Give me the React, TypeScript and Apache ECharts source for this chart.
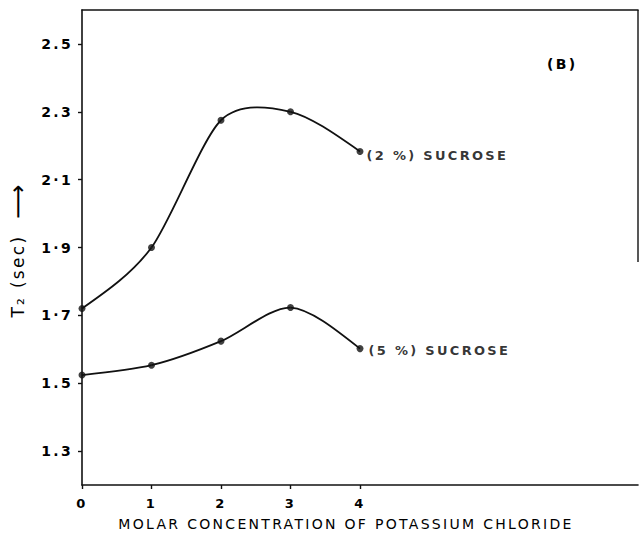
import React, { useEffect, useRef } from "react";
import * as echarts from "echarts";

const concentrations = [0, 1, 2, 3, 4];
const sucrose2 = [1.72, 1.9, 2.275, 2.3, 2.183];
const sucrose5 = [1.524, 1.553, 1.624, 1.723, 1.602];
const seriesNames = ["(2 %) SUCROSE", "(5 %) SUCROSE"];
const yTicks = [1.3, 1.5, 1.7, 1.9, 2.1, 2.3, 2.5];
const yTickLabels: Record<string, string> = {
  "1.3": "1.3",
  "1.5": "1.5",
  "1.7": "1·7",
  "1.9": "1·9",
  "2.1": "2·1",
  "2.3": "2.3",
  "2.5": "2.5",
};
const xTicks = [0, 1, 2, 3, 4];
const xTitle = "MOLAR CONCENTRATION OF POTASSIUM CHLORIDE";
const panelLabel = "(B)";

const INK = "#000";
const FONT = "DejaVu Sans";

function curveSeries(vals: number[]) {
  const n = vals.length;
  return {
    type: "custom",
    data: vals.map((v, i) => [concentrations[i], v]),
    silent: true,
    z: 2,
    renderItem: (params: any, api: any) => {
      const i = params.dataIndex;
      if (i >= n - 1) return null;
      const P = vals.map((v, j) => api.coord([concentrations[j], v]) as number[]);
      const k = 0.82;
      const T: number[][] = [];
      for (let j = 1; j < n - 1; j++) {
        T[j] = [
          (k * (P[j + 1][0] - P[j - 1][0])) / 2,
          (k * (P[j + 1][1] - P[j - 1][1])) / 2,
        ];
      }
      T[0] = [
        (3 * (P[1][0] - P[0][0]) - T[1][0]) / 2,
        (3 * (P[1][1] - P[0][1]) - T[1][1]) / 2,
      ];
      T[n - 1] = [
        (3 * (P[n - 1][0] - P[n - 2][0]) - T[n - 2][0]) / 2,
        (3 * (P[n - 1][1] - P[n - 2][1]) - T[n - 2][1]) / 2,
      ];
      const a = P[i];
      const b = P[i + 1];
      return {
        type: "bezierCurve",
        shape: {
          x1: a[0],
          y1: a[1],
          x2: b[0],
          y2: b[1],
          cpx1: a[0] + T[i][0] / 3,
          cpy1: a[1] + T[i][1] / 3,
          cpx2: b[0] - T[i + 1][0] / 3,
          cpy2: b[1] - T[i + 1][1] / 3,
        },
        style: { stroke: "#111", lineWidth: 1.8, fill: null },
      };
    },
  };
}

function pointSeries(name: string, vals: number[], offset: number[]) {
  const last = vals.length - 1;
  return {
    type: "scatter",
    name,
    data: vals.map((v, i) => [concentrations[i], v]),
    symbol: "circle",
    symbolSize: 7,
    itemStyle: { color: "#111" },
    z: 3,
    label: {
      show: true,
      position: "right",
      distance: 3,
      offset,
      formatter: (p: any) => (p.dataIndex === last ? name : ""),
      color: INK,
      fontFamily: FONT,
      fontSize: 13,
      fontWeight: "bold",
    },
  };
}

export default function App() {
  const ref = useRef<HTMLDivElement>(null);
  useEffect(() => {
    if (!ref.current) return;
    const chart = echarts.init(ref.current, undefined, { renderer: "svg" });
    chart.setOption({
      animation: false,
      backgroundColor: "#fff",
      grid: {
        left: 82,
        right: 2,
        top: 10,
        bottom: 50,
        containLabel: false,
        outerBoundsMode: "none",
      },
      xAxis: [
        {
          type: "value",
          min: 0,
          max: 8,
          splitLine: { show: false },
          axisLine: { show: true, lineStyle: { color: "#111", width: 1.6 } },
          axisTick: {
            show: true,
            length: 4,
            customValues: xTicks,
            lineStyle: { color: "#111", width: 1.4 },
          },
          axisLabel: {
            customValues: xTicks,
            color: INK,
            fontFamily: FONT,
            fontSize: 13,
            fontWeight: "bold",
            margin: 12,
          },
          name: xTitle,
          nameLocation: "middle",
          nameGap: 32,
          nameTextStyle: {
            color: INK,
            fontFamily: FONT,
            fontSize: 14,
            padding: [0, 28, 0, 0],
          },
        },
        {
          type: "value",
          position: "top",
          min: 0,
          max: 8,
          splitLine: { show: false },
          axisLine: { show: true, lineStyle: { color: "#111", width: 1.6 } },
          axisTick: { show: false },
          axisLabel: { show: false },
        },
      ],
      yAxis: {
        type: "value",
        min: 1.2,
        max: 2.6,
        splitLine: { show: false },
        axisLine: { show: true, lineStyle: { color: "#111", width: 1.6 } },
        axisTick: {
          show: true,
          length: 4,
          customValues: yTicks,
          lineStyle: { color: "#111", width: 1.4 },
        },
        axisLabel: {
          customValues: yTicks,
          formatter: (v: number) => yTickLabels[v.toFixed(1)] ?? String(v),
          color: INK,
          fontFamily: FONT,
          fontSize: 14,
          fontWeight: "bold",
          margin: 9,
        },
        name: "{t|T₂ (sec)}{a|   ⟶}",
        nameLocation: "middle",
        nameRotate: 90,
        nameGap: 52,
        nameTextStyle: {
          color: INK,
          fontFamily: FONT,
          fontSize: 17,
          rich: {
            t: { fontSize: 17, fontFamily: FONT, color: INK },
            a: { fontSize: 24, fontFamily: FONT, color: INK },
          },
        },
      },
      graphic: [
        {
          type: "line",
          shape: { x1: 638, y1: 10, x2: 638, y2: 262 },
          style: { stroke: "#111", lineWidth: 1.4 },
        },
        {
          type: "text",
          left: 547,
          top: 57,
          style: {
            text: panelLabel,
            fill: INK,
            font: `bold 14px "${FONT}"`,
          },
        },
      ],
      series: [
        curveSeries(sucrose2),
        curveSeries(sucrose5),
        pointSeries(seriesNames[0], sucrose2, [0, 4]),
        pointSeries(seriesNames[1], sucrose5, [2, 2]),
      ],
    });
    return () => chart.dispose();
  }, []);
  return (
    <div
      ref={ref}
      style={{
        width: 640,
        height: 535,
        position: "absolute",
        left: 0,
        top: 0,
        letterSpacing: "2.3px",
      }}
    />
  );
}
